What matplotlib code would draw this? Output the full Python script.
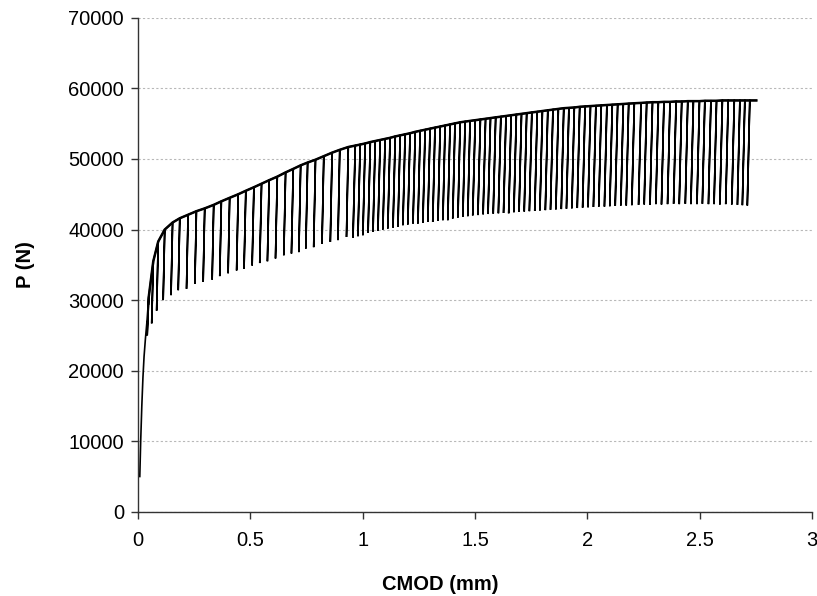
import matplotlib
matplotlib.use("Agg")
import matplotlib.pyplot as plt

plt.rcParams['font.family'] = ['Liberation Sans', 'DejaVu Sans']

# Initial loading branch (CMOD in mm, load in N)
pre_cmod = [0.008, 0.012, 0.017, 0.022, 0.027, 0.033, 0.040, 0.046]
pre_load = [5000, 10000, 15000, 19000, 22000, 24500, 27000, 29500]

# Unloading cycles: peak (start of unloading) and valley (end of unloading)
peak_cmod = [
    0.048, 0.068, 0.090, 0.119, 0.154, 0.186, 0.223, 0.260, 0.297, 0.337,
    0.371, 0.408, 0.446, 0.480, 0.516, 0.550, 0.584, 0.620, 0.657, 0.691,
    0.724, 0.755, 0.790, 0.827, 0.864, 0.898, 0.936,
    0.967, 0.989, 1.011, 1.034, 1.056, 1.078, 1.100, 1.122, 1.145, 1.167,
    1.189, 1.211, 1.234, 1.256, 1.278, 1.300, 1.322, 1.345, 1.367, 1.389,
    1.411, 1.434, 1.456, 1.478,
    1.501, 1.524, 1.547, 1.569, 1.592, 1.615, 1.638, 1.661, 1.684, 1.707,
    1.730, 1.753, 1.777, 1.800, 1.824, 1.847, 1.871, 1.895, 1.918, 1.942,
    1.966, 1.990, 2.014, 2.038, 2.062, 2.087, 2.111, 2.135, 2.160, 2.184,
    2.209,
    2.239, 2.264, 2.290, 2.316, 2.341, 2.368, 2.395, 2.420, 2.447, 2.472,
    2.499, 2.523, 2.550, 2.575, 2.601, 2.627, 2.654, 2.679, 2.701, 2.723,
]
peak_load = [
    30500, 35500, 38300, 40000, 41000, 41600, 42100, 42600, 43000, 43500,
    44000, 44500, 45000, 45500, 46000, 46500, 47000, 47500, 48100, 48600,
    49100, 49500, 49900, 50400, 50900, 51300, 51700,
    51900, 52050, 52200, 52400, 52550, 52700, 52850, 53000, 53200, 53350,
    53500, 53650, 53850, 54000, 54150, 54300, 54450, 54600, 54750, 54900,
    55050, 55200, 55300, 55400,
    55500, 55600, 55700, 55800, 55900, 56000, 56100, 56200, 56300, 56400,
    56500, 56600, 56700, 56800, 56900, 57000, 57100, 57200, 57250, 57300,
    57400, 57450, 57500, 57550, 57600, 57650, 57700, 57750, 57800, 57850,
    57900,
    57950, 58000, 58050, 58050, 58100, 58100, 58150, 58150, 58200, 58200,
    58200, 58250, 58250, 58250, 58300, 58300, 58300, 58300, 58300, 58300,
]
valley_cmod = [
    0.041, 0.061, 0.083, 0.112, 0.147, 0.179, 0.216, 0.253, 0.290, 0.330,
    0.364, 0.401, 0.439, 0.472, 0.508, 0.542, 0.576, 0.612, 0.649, 0.683,
    0.716, 0.747, 0.782, 0.819, 0.856, 0.890, 0.928,
    0.957, 0.979, 1.001, 1.024, 1.046, 1.068, 1.090, 1.112, 1.135, 1.157,
    1.179, 1.201, 1.224, 1.246, 1.268, 1.290, 1.312, 1.335, 1.357, 1.379,
    1.401, 1.424, 1.446, 1.468,
    1.490, 1.513, 1.536, 1.558, 1.581, 1.604, 1.627, 1.650, 1.673, 1.696,
    1.719, 1.742, 1.766, 1.789, 1.813, 1.836, 1.860, 1.884, 1.907, 1.931,
    1.955, 1.979, 2.003, 2.027, 2.051, 2.076, 2.100, 2.124, 2.149, 2.173,
    2.198,
    2.228, 2.253, 2.279, 2.305, 2.330, 2.357, 2.384, 2.409, 2.436, 2.461,
    2.488, 2.512, 2.539, 2.564, 2.590, 2.616, 2.643, 2.668, 2.690, 2.712,
]
valley_load = [
    25000, 26700, 28500, 30000, 30700, 31400, 31600, 32300, 32600, 32900,
    33400, 33800, 34200, 34450, 34900, 35250, 35500, 35900, 36350, 36600,
    36800, 37300, 37500, 38000, 38250, 38500, 38950,
    38860, 39050, 39190, 39520, 39660, 39800, 40000, 40140, 40280, 40380,
    40610, 40710, 40850, 40850, 40940, 41080, 41080, 41220, 41320, 41320,
    41560, 41700, 41800, 41890,
    42000, 42050, 42150, 42200, 42250, 42300, 42350, 42300, 42450, 42500,
    42550, 42600, 42650, 42700, 42750, 42800, 42850, 42900, 42950, 43000,
    43050, 43100, 43150, 43200, 43250, 43250, 43300, 43350, 43400, 43400,
    43450,
    43500, 43550, 43500, 43600, 43550, 43600, 43650, 43600, 43650, 43600,
    43600, 43650, 43600, 43600, 43550, 43600, 43550, 43500, 43450, 43400,
]

# Final point of the test
end_cmod = [2.752]
end_load = [58300]

x_ticks = [0, 0.5, 1, 1.5, 2, 2.5, 3]
x_tick_labels = ["0", "0.5", "1", "1.5", "2", "2.5", "3"]
y_ticks = [0, 10000, 20000, 30000, 40000, 50000, 60000, 70000]
y_tick_labels = ["0", "10000", "20000", "30000", "40000", "50000", "60000", "70000"]

# Assemble the load path: loading branch, then unload/reload for each cycle
xs = list(pre_cmod)
ys = list(pre_load)
for pc, pl, vc, vl in zip(peak_cmod, peak_load, valley_cmod, valley_load):
    xs += [pc, vc, pc]
    ys += [pl, vl, pl]
xs += end_cmod
ys += end_load

fig = plt.figure(figsize=(8.17, 5.96), dpi=100)
ax = fig.add_axes([0.1689, 0.1413, 0.8250, 0.8287])

ax.plot(xs, ys, color="black", linewidth=1.2, solid_joinstyle="miter")
# Envelope through the cycle peaks, where the reloading branches pile up
ax.plot(pre_cmod[-1:] + peak_cmod + end_cmod, pre_load[-1:] + peak_load + end_load,
        color="black", linewidth=1.8)

ax.set_xlim(0, 3)
ax.set_ylim(0, 70000)
ax.set_xticks(x_ticks)
ax.set_xticklabels(x_tick_labels)
ax.set_yticks(y_ticks)
ax.set_yticklabels(y_tick_labels)

ax.yaxis.grid(True, color="#b8b8b8", linestyle=(0, (2, 2)), linewidth=0.8)
ax.set_axisbelow(True)
for side in ("top", "right"):
    ax.spines[side].set_visible(False)
for side in ("left", "bottom"):
    ax.spines[side].set_color("#333333")
    ax.spines[side].set_linewidth(1.0)

ax.tick_params(axis="both", direction="out", length=5, width=1.0,
               color="#333333", labelsize=14.5)
ax.tick_params(axis="x", pad=9)
ax.tick_params(axis="y", pad=5)

ax.set_xlabel("CMOD (mm)", fontsize=14.5, fontweight="bold")
ax.set_ylabel("P (N)", fontsize=14.5, fontweight="bold")
ax.xaxis.set_label_coords(0.448, -0.128)
ax.yaxis.set_label_coords(-0.153, 0.5)

fig.savefig("out.png", dpi=100)
